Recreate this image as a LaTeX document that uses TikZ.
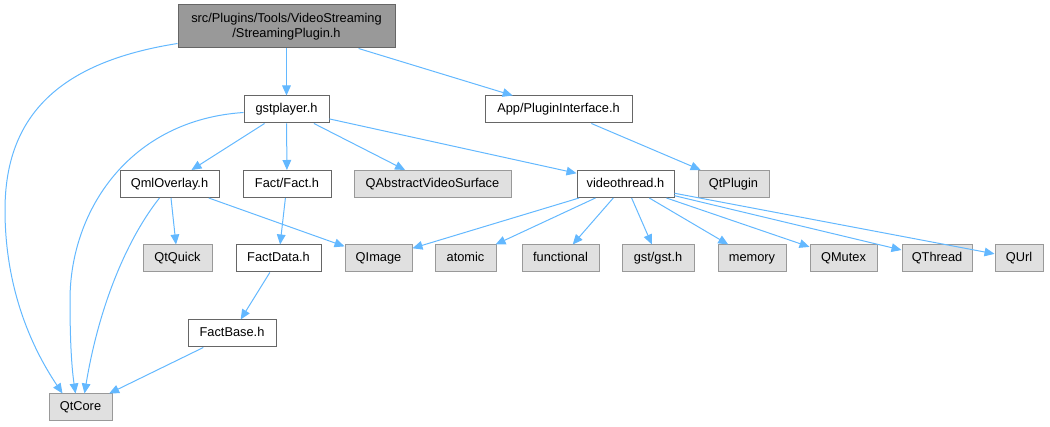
\documentclass[tikz,border=0pt]{standalone}
\usepackage{fontspec}
\setmainfont{Liberation Sans}
\usetikzlibrary{arrows.meta,calc}
\definecolor{edgec}{HTML}{63B8FF}
\definecolor{darkb}{HTML}{666666}
\definecolor{lightb}{HTML}{999999}
\definecolor{grayfill}{HTML}{E0E0E0}
\definecolor{rootfill}{HTML}{999999}
\tikzset{
  basebox/.style={rectangle, inner sep=0pt, minimum height=20.25pt, line width=0.75pt,
    font=\fontsize{9.6}{11.25}\selectfont, text=black, align=center},
  box/.style={basebox, text height=6.9pt, text depth=2.1pt},
  whitebox/.style={box, draw=darkb, fill=white},
  graybox/.style={box, draw=lightb, fill=grayfill},
  rootbox/.style={basebox, draw=darkb, fill=rootfill, minimum height=32.25pt},
  edge/.style={draw=edgec, line width=0.75pt, -{Triangle[length=7.5pt,width=6.5pt]}}
}
\begin{document}
\begin{tikzpicture}[x=0.75pt,y=-0.75pt]
\useasboundingbox (0,0) rectangle (1050,427);
% nodes
\node[rootbox, minimum width=162.75pt] (root) at (286.5,26.5) {src/Plugins/Tools/VideoStreaming\\/StreamingPlugin.h};
\node[whitebox, minimum width=63.75pt] (gst) at (286.5,109.5) {gstplayer.h};
\node[whitebox, minimum width=110.25pt] (app) at (558.5,109.5) {App/PluginInterface.h};
\node[whitebox, minimum width=74.25pt] (qml) at (169.5,184) {QmlOverlay.h};
\node[whitebox, minimum width=66pt] (fact) at (287,184) {Fact/Fact.h};
\node[graybox, minimum width=117.75pt] (qavs) at (432.5,184) {QAbstractVideoSurface};
\node[whitebox, minimum width=72.75pt] (vt) at (625.5,184) {videothread.h};
\node[graybox, minimum width=53.25pt] (qtplugin) at (733.5,184) {QtPlugin};
\node[graybox, minimum width=51.75pt] (qtquick) at (177.5,258.5) {QtQuick};
\node[whitebox, minimum width=63.75pt] (factdata) at (278.5,258.5) {FactData.h};
\node[graybox, minimum width=50.25pt] (qimage) at (378.5,258.5) {QImage};
\node[graybox, minimum width=45.75pt] (atomic) at (465.5,258.5) {atomic};
\node[graybox, minimum width=57.75pt] (functional) at (560.5,258.5) {functional};
\node[graybox, minimum width=54pt] (gstgst) at (658,258.5) {gst/gst.h};
\node[graybox, minimum width=51pt] (memory) at (752,258.5) {memory};
\node[graybox, minimum width=50.25pt] (qmutex) at (843.5,258.5) {QMutex};
\node[graybox, minimum width=52.5pt] (qthread) at (937,258.5) {QThread};
\node[graybox, minimum width=36pt] (qurl) at (1019,258.5) {QUrl};
\node[whitebox, minimum width=66pt] (factbase) at (232,333.5) {FactBase.h};
\node[graybox, minimum width=47.25pt] (qtcore) at (80.5,407.5) {QtCore};
% edges
\draw[edge] ($(root.south west)+(0,-5)$) .. controls (60,62) and (5,115) .. (5,210)
   .. controls (5,300) and (40,360) .. ($(qtcore.north west)+(14,0)$);
\draw[edge] (root) -- (gst);
\draw[edge] (root) -- (app);
\draw[edge] ($(gst.west)+(0,3)$) .. controls (130,120) and (70,210) .. (70,300)
   .. controls (70,345) and (72,370) .. ($(qtcore.north west)+(27,0)$);
\draw[edge] (gst) -- (qml);
\draw[edge] (gst) -- (fact);
\draw[edge] (gst) -- (qavs);
\draw[edge] (gst) -- (vt);
\draw[edge] (app) -- (qtplugin);
\draw[edge] ($(qml.south west)+(40,0)$) .. controls (130,235) and (100,300) .. ($(qtcore.north west)+(36,0)$);
\draw[edge] (qml) -- (qtquick);
\draw[edge] (qml) -- (qimage);
\draw[edge] (fact) -- (factdata);
\draw[edge] (factdata) -- (factbase);
\draw[edge] (factbase) -- (qtcore);
\draw[edge] (vt) -- (qimage);
\draw[edge] (vt) -- (atomic);
\draw[edge] (vt) -- (functional);
\draw[edge] (vt) -- (gstgst);
\draw[edge] (vt) -- (memory);
\draw[edge] (vt) -- (qmutex);
\draw[edge] (vt) -- (qthread);
\draw[edge] (vt) -- (qurl);
\end{tikzpicture}
\end{document}
